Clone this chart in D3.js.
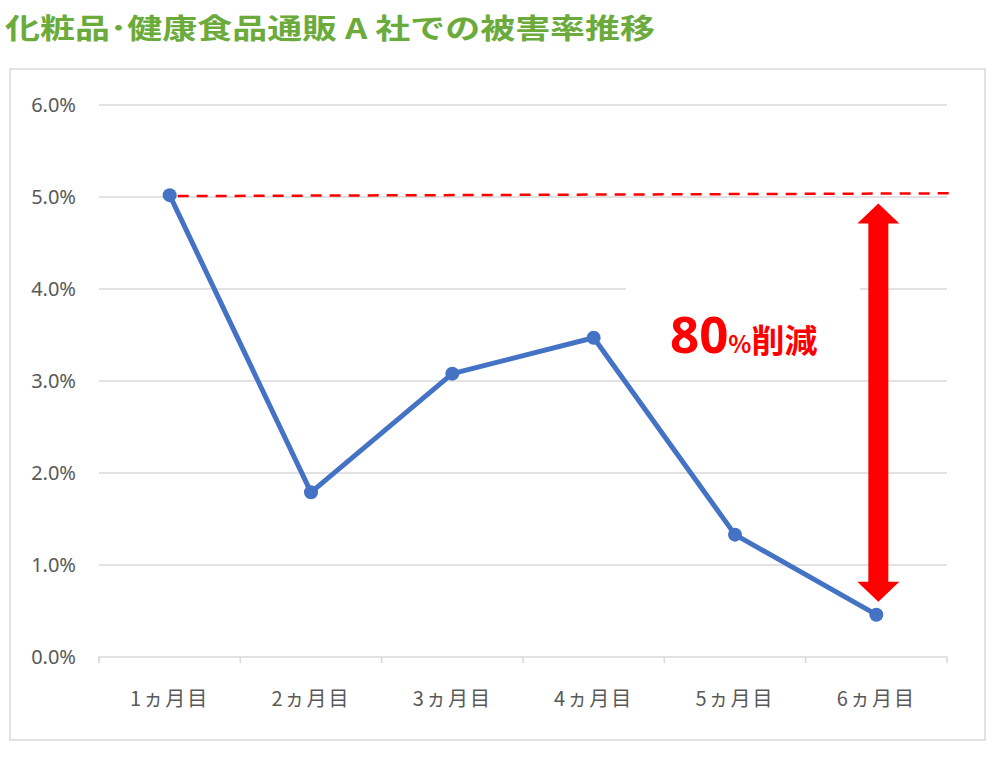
<!DOCTYPE html>
<html><head><meta charset="utf-8">
<script src="https://cdn.jsdelivr.net/npm/d3@7"></script>
<style>
body{margin:0;background:#fff;}
svg{display:block;}
</style></head>
<body>
<svg id="c" width="998" height="760"></svg>
<script>
const title = "化粧品･健康食品通販 A 社での被害率推移";
const categories = ["1ヵ月目","2ヵ月目","3ヵ月目","4ヵ月目","5ヵ月目","6ヵ月目"];
const values = [5.02, 1.79, 3.08, 3.47, 1.33, 0.46];
const yTicks = [0,1,2,3,4,5,6];
const refLine = [5.01, 5.04];
const arrowRange = [4.93, 0.6];
const annotation = {big:"80", pct:"%", word:"削減"};

(function(){
const svg = d3.select("#c");
const font = "'Noto Sans CJK JP','Noto Sans',sans-serif";

svg.append("text").attr("x",5).attr("y",39)
  .attr("font-family",font).attr("font-weight","bold").attr("font-size",28)
  .attr("fill","#6aab3c").attr("textLength",650).attr("lengthAdjust","spacingAndGlyphs")
  .text(title);

svg.append("rect").attr("x",10).attr("y",69).attr("width",975).attr("height",671)
  .attr("fill","none").attr("stroke","#d9d9d9").attr("stroke-width",1.5);

const x = d3.scaleBand().domain(categories).range([99,947]);
const y = d3.scaleLinear().domain([0,6]).range([657,105]);
const cx = d => x(d) + x.bandwidth()/2;

svg.append("g").selectAll("line").data(yTicks.filter(d=>d>0)).join("line")
  .attr("x1",99).attr("x2",947).attr("y1",d=>y(d)).attr("y2",d=>y(d))
  .attr("stroke","#d9d9d9").attr("stroke-width",1.5);

const xa = svg.append("g").attr("transform","translate(0,"+y(0)+")")
  .call(d3.axisBottom(x).tickSizeInner(6).tickSizeOuter(6).tickPadding(24));
xa.select(".domain").attr("stroke","#d9d9d9").attr("stroke-width",1.5)
  .attr("d","M99,6V0H947V6");
xa.selectAll(".tick line").attr("stroke","#d9d9d9").attr("stroke-width",1.5)
  .attr("transform","translate("+(-x.bandwidth()/2)+",0)");
xa.selectAll(".tick text").attr("font-family",font).attr("font-size",20)
  .attr("letter-spacing",2).attr("fill","#595959").attr("dy","0.35em").attr("y",42);

svg.append("g").selectAll("text").data(yTicks).join("text")
  .attr("x",76).attr("y",d=>y(d)).attr("dy","0.35em").attr("text-anchor","end")
  .attr("font-family","'Noto Sans',sans-serif").attr("font-size",20).attr("fill","#595959")
  .text(d=>d3.format(".1f")(d)+"%");

svg.append("rect").attr("x",626).attr("y",y(4)-4).attr("width",234).attr("height",8).attr("fill","#fff");

svg.append("line").attr("x1",cx(categories[0])+8).attr("x2",953)
  .attr("y1",y(refLine[0])).attr("y2",y(refLine[1]))
  .attr("stroke","#ff0000").attr("stroke-width",2.5).attr("stroke-dasharray","11,8");

svg.append("path").datum(values)
  .attr("d",d3.line().x((d,i)=>cx(categories[i])).y(d=>y(d)))
  .attr("fill","none").attr("stroke","#4472c4").attr("stroke-width",5).attr("stroke-linejoin","round");
svg.append("g").selectAll("circle").data(values).join("circle")
  .attr("cx",(d,i)=>cx(categories[i])).attr("cy",d=>y(d)).attr("r",7).attr("fill","#4472c4");

const ax = cx(categories[5])+2;
const yTop = y(arrowRange[0]), yBot = y(arrowRange[1]);
const hw = 21, sw = 10, hl = 20;
const pts = [[ax,yTop],[ax+hw,yTop+hl],[ax+sw,yTop+hl],[ax+sw,yBot-hl],[ax+hw,yBot-hl],[ax,yBot],
  [ax-hw,yBot-hl],[ax-sw,yBot-hl],[ax-sw,yTop+hl],[ax-hw,yTop+hl]];
svg.append("path").attr("d","M"+pts.map(p=>p.join(",")).join("L")+"Z").attr("fill","#ff0000");

const t = svg.append("text").attr("x",670).attr("y",353).attr("font-family",font)
  .attr("font-weight","bold").attr("fill","#ff0000");
t.append("tspan").attr("font-size",51).attr("font-family","'Noto Sans','Noto Sans CJK JP',sans-serif").text(annotation.big);
t.append("tspan").attr("font-size",24).text(annotation.pct);
t.append("tspan").attr("font-size",33).text(annotation.word);
})();
</script>
</body></html>
